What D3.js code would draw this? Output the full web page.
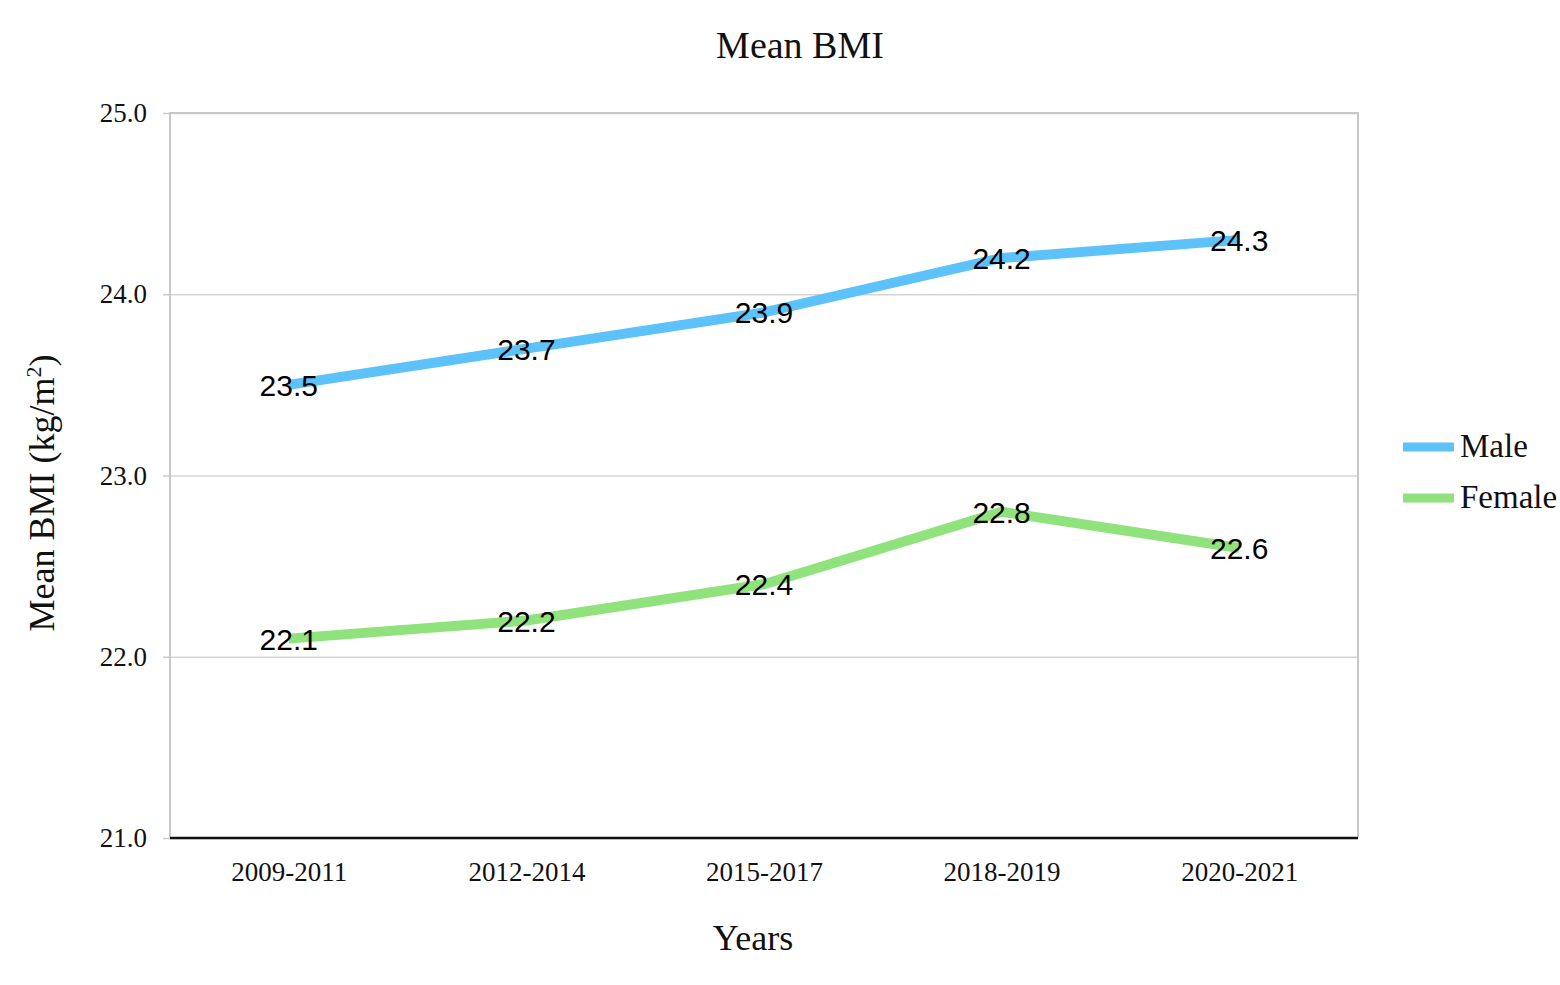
<!DOCTYPE html>
<html lang="en">
<head>
<meta charset="UTF-8">
<title>Mean BMI</title>
<script src="https://cdn.jsdelivr.net/npm/d3@7"></script>
<style>
  body { margin: 0; background: #fff; }
</style>
</head>
<body>
<script>
    // data
    var years = ["2009-2011", "2012-2014", "2015-2017", "2018-2019", "2020-2021"];
    var male = [23.5, 23.7, 23.9, 24.2, 24.3];
    var female = [22.1, 22.2, 22.4, 22.8, 22.6];
    var yTicks = [21, 22, 23, 24, 25];
    var seriesNames = ["Male", "Female"];
    var seriesColors = ["#5ec2fa", "#90e27c"];

    var width = 1560, height = 985;
    var plotLeft = 170, plotRight = 1358, plotTop = 113, plotBottom = 838;
    var serif = "'Liberation Serif', 'Times New Roman', serif";
    var sans = "'Liberation Sans', Arial, sans-serif";

    var svg = d3.select("body").append("svg")
        .attr("width", width)
        .attr("height", height);

    var x = d3.scalePoint().domain(years).range([plotLeft, plotRight]).padding(0.5);
    var y = d3.scaleLinear().domain([21, 25]).range([plotBottom, plotTop]);

    // gridlines
    svg.append("g")
        .attr("transform", "translate(" + plotLeft + ",0)")
        .call(d3.axisLeft(y).tickValues(yTicks).tickSize(-(plotRight - plotLeft)).tickFormat(""))
        .call(function (g) {
            g.select(".domain").remove();
            g.selectAll("line").attr("stroke", "#d4d4d4").attr("stroke-width", 1.5);
        });

    // frame (left, top, right)
    svg.append("path")
        .attr("d", "M" + plotLeft + "," + plotBottom + "V" + plotTop + "H" + plotRight + "V" + plotBottom)
        .attr("fill", "none")
        .attr("stroke", "#c8c8c8")
        .attr("stroke-width", 2);

    // y ticks + labels
    svg.append("g")
        .attr("transform", "translate(" + plotLeft + ",0)")
        .call(d3.axisLeft(y).tickValues(yTicks).tickSize(7).tickPadding(16).tickFormat(d3.format(".1f")))
        .call(function (g) {
            g.select(".domain").remove();
            g.selectAll("line").attr("stroke", "#c8c8c8").attr("stroke-width", 1.5);
            g.selectAll("text").attr("font-family", serif).attr("font-size", "27px").attr("fill", "#111");
        });

    // x axis
    svg.append("g")
        .attr("transform", "translate(0," + plotBottom + ")")
        .call(d3.axisBottom(x).tickSize(0).tickPadding(24))
        .call(function (g) {
            g.select(".domain").attr("stroke", "#111").attr("stroke-width", 2.5)
                .attr("d", "M" + plotLeft + ",0H" + plotRight);
            g.selectAll("text").attr("font-family", serif).attr("font-size", "27px").attr("fill", "#111");
        });

    // lines
    var line = d3.line()
        .x(function (d, i) { return x(years[i]); })
        .y(function (d) { return y(d); });

    [male, female].forEach(function (data, s) {
        svg.append("path")
            .datum(data)
            .attr("d", line)
            .attr("fill", "none")
            .attr("stroke", seriesColors[s])
            .attr("stroke-width", 10)
            .attr("stroke-linejoin", "round");

        svg.append("g").selectAll("text")
            .data(data)
            .enter()
            .append("text")
            .attr("x", function (d, i) { return x(years[i]); })
            .attr("y", function (d) { return y(d) + 11; })
            .attr("text-anchor", "middle")
            .attr("font-family", sans)
            .attr("font-size", "30px")
            .attr("fill", "#000")
            .text(function (d) { return d.toFixed(1); });
    });

    // title
    svg.append("text")
        .attr("x", 800).attr("y", 58)
        .attr("text-anchor", "middle")
        .attr("font-family", serif)
        .attr("font-size", "38px")
        .attr("fill", "#111")
        .text("Mean BMI");

    // x title
    svg.append("text")
        .attr("x", 753).attr("y", 950)
        .attr("text-anchor", "middle")
        .attr("font-family", serif)
        .attr("font-size", "36px")
        .attr("fill", "#111")
        .text("Years");

    // y title
    var yt = svg.append("text")
        .attr("transform", "translate(54,493) rotate(-90)")
        .attr("text-anchor", "middle")
        .attr("font-family", serif)
        .attr("font-size", "36px")
        .attr("fill", "#111");
    yt.append("tspan").text("Mean BMI (kg/m");
    yt.append("tspan").attr("font-size", "22px").attr("dy", -13).text("2");
    yt.append("tspan").attr("dy", 13).text(")");

    // legend
    var legend = svg.append("g").selectAll("g")
        .data(seriesNames)
        .enter()
        .append("g")
        .attr("transform", function (d, i) { return "translate(1403," + (447 + i * 51) + ")"; });
    legend.append("line")
        .attr("x1", 0).attr("x2", 51)
        .attr("stroke", function (d, i) { return seriesColors[i]; })
        .attr("stroke-width", 9);
    legend.append("text")
        .attr("x", 57).attr("y", 10)
        .attr("font-family", serif)
        .attr("font-size", "33px")
        .attr("fill", "#111")
        .text(function (d) { return d; });
</script>
</body>
</html>
